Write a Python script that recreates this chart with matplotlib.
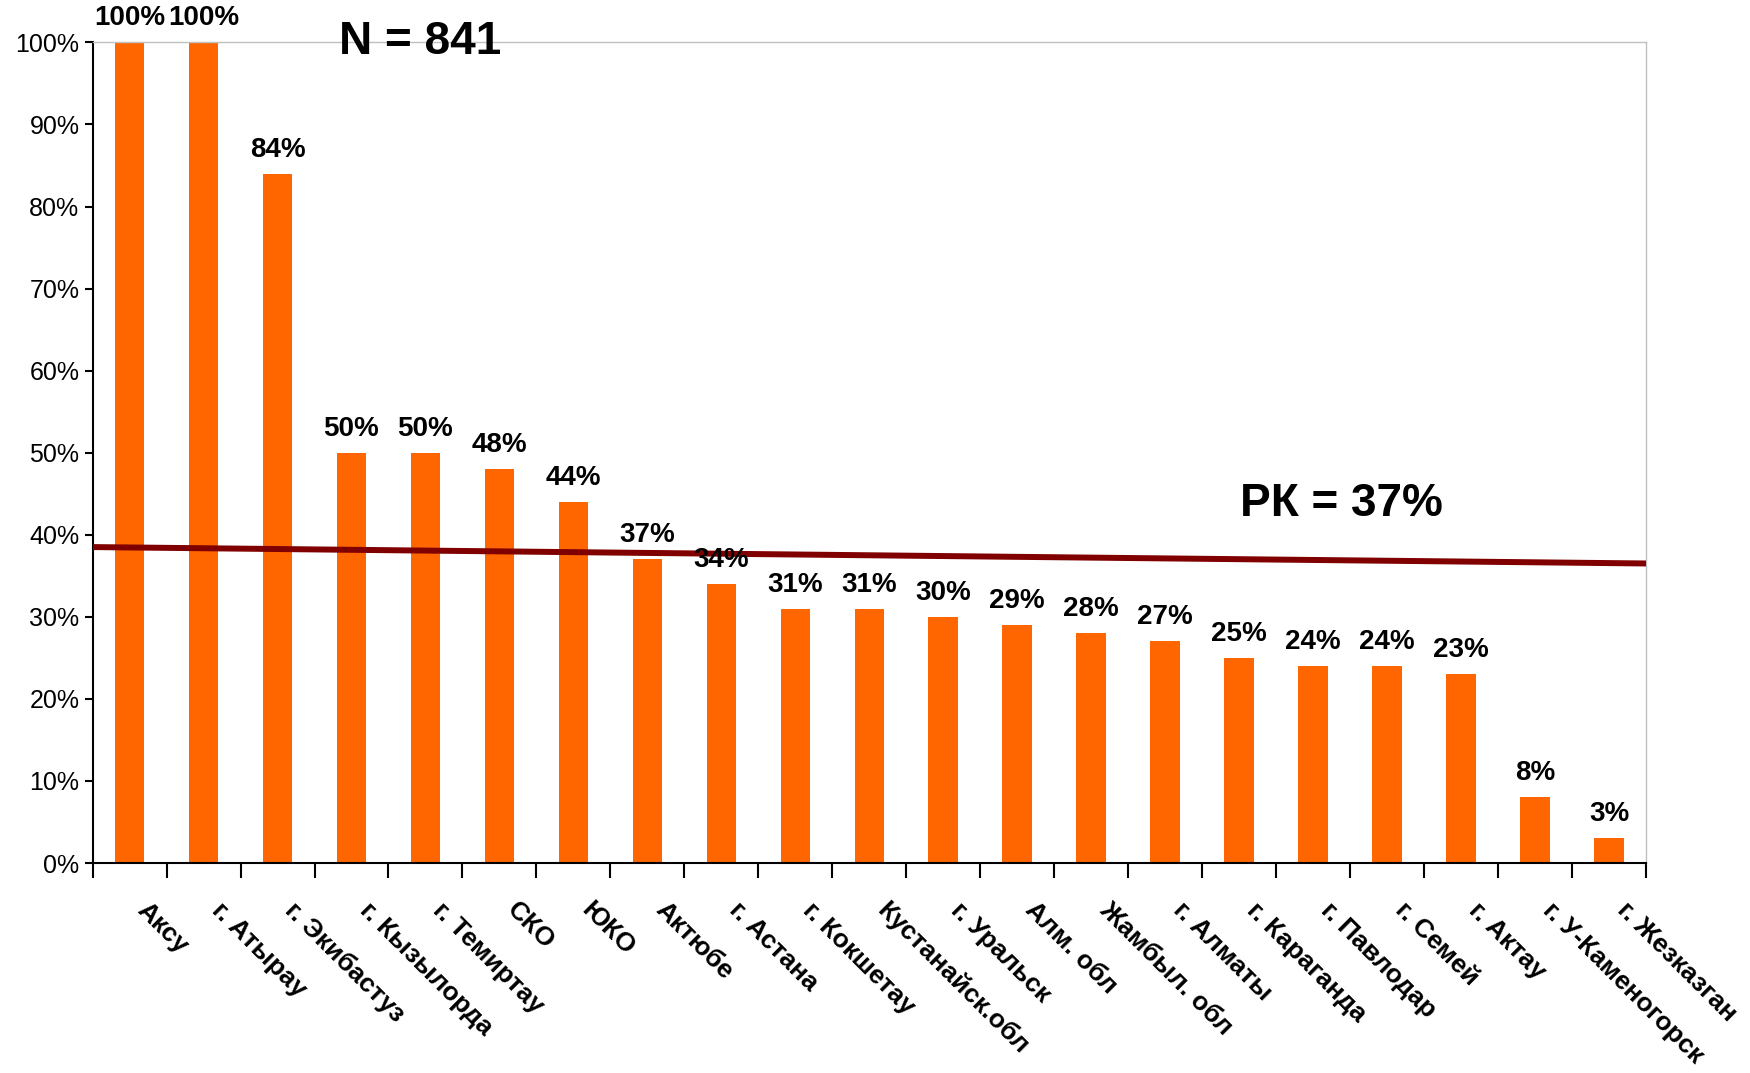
import matplotlib.pyplot as plt
import matplotlib.transforms as mtransforms
from matplotlib.ticker import PercentFormatter

regions = ['Аксу', 'г. Атырау', 'г. Экибастуз', 'г. Кызылорда', 'г. Темиртау', 'СКО', 'ЮКО',
           'Актюбе', 'г. Астана', 'г. Кокшетау', 'Кустанайск.обл', 'г. Уральск', 'Алм. обл',
           'Жамбыл. обл', 'г. Алматы', 'г. Караганда', 'г. Павлодар', 'г. Семей', 'г. Актау',
           'г. У-Каменогорск', 'г. Жезказган']
shares = [100, 100, 84, 50, 50, 48, 44, 37, 34, 31, 31, 30, 29, 28, 27, 25, 24, 24, 23, 8, 3]

# average line (drawn slightly slanted in the original)
line_x = [-0.5, 20.5]
line_y = [38.5, 36.5]

plt.rcParams['font.family'] = ['Liberation Sans', 'DejaVu Sans']

fig = plt.figure(figsize=(17.5, 10.73), dpi=100)
ax = fig.add_axes([0.0529, 0.1957, 0.8877, 0.7648])

x = range(len(regions))
bars = ax.bar(x, shares, width=0.4, color='#FF6600', zorder=2)
ax.plot(line_x, line_y, color='#800000', linewidth=4.3, zorder=3, solid_capstyle='butt')

for bar, v in zip(bars, shares):
    ax.annotate(f'{v}%', (bar.get_x() + bar.get_width() / 2, v), xytext=(0, 8),
                textcoords='offset points', ha='center', va='bottom',
                fontsize=20, fontweight='bold', zorder=4)

ax.set_xlim(-0.5, len(regions) - 0.5)
ax.set_ylim(0, 100)
ax.set_yticks(range(0, 101, 10))
ax.yaxis.set_major_formatter(PercentFormatter(decimals=0))
ax.tick_params(axis='y', labelsize=18, length=6, width=1.5, direction='out')

ax.set_xticks(list(x))
ax.set_xticklabels(regions, rotation=-45, ha='left', va='top', rotation_mode='anchor',
                   fontsize=19, fontweight='bold')
ax.tick_params(axis='x', which='major', length=0, pad=25)
ax.set_xticks([i - 0.5 for i in range(len(regions) + 1)], minor=True)
ax.tick_params(axis='x', which='minor', length=11, width=1.5, direction='out')

offset = mtransforms.ScaledTranslation(0.2, 0, fig.dpi_scale_trans)
for lbl in ax.get_xticklabels():
    lbl.set_transform(lbl.get_transform() + offset)

for side in ['left', 'bottom']:
    ax.spines[side].set_linewidth(1.5)
    ax.spines[side].set_color('black')
for side in ['top', 'right']:
    ax.spines[side].set_linewidth(1)
    ax.spines[side].set_color('#c0c0c0')

ax.text(0.211, 1.0, 'N = 841', transform=ax.transAxes, ha='center', va='center',
        fontsize=33, fontweight='bold')
ax.text(0.804, 0.438, 'РК = 37%', transform=ax.transAxes, ha='center', va='center',
        fontsize=33, fontweight='bold')

fig.savefig('out.png', dpi=100)
